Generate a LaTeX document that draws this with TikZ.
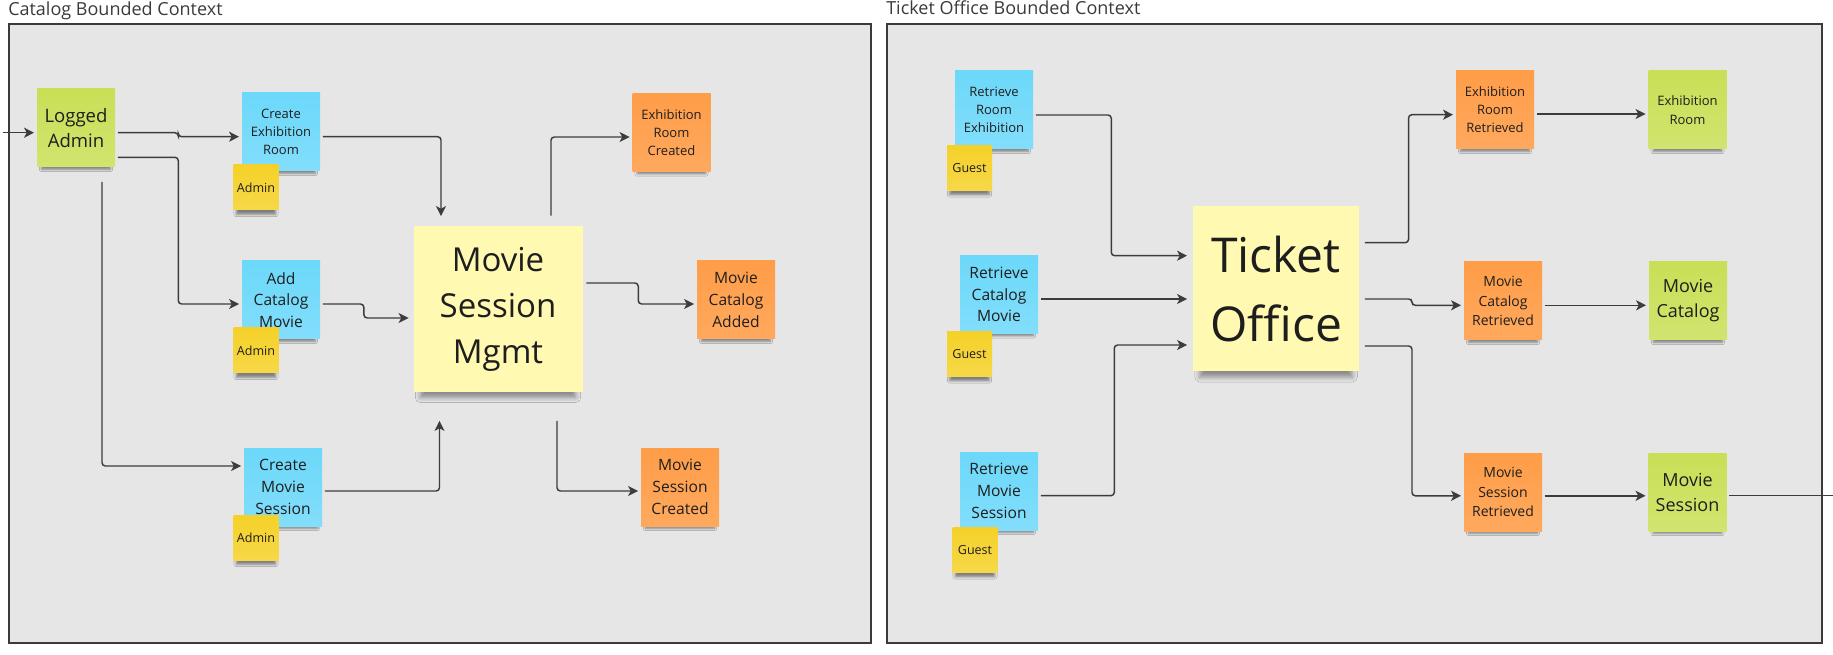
\documentclass[tikz,border=0pt]{standalone}
\usepackage{fontspec}
\setmainfont{Open Sans}
\usepackage{tikz}
\usetikzlibrary{arrows.meta}
\usetikzlibrary{calc}
\usetikzlibrary{shadows.blur}

\definecolor{framefill}{HTML}{E6E6E6}
\definecolor{framedraw}{HTML}{3A3A3A}
\definecolor{inkgray}{HTML}{1E1E1E}
\definecolor{linegray}{HTML}{3C3C3C}
\definecolor{notegreen}{HTML}{C9DF56}
\definecolor{noteblue}{HTML}{6CD8FA}
\definecolor{noteorange}{HTML}{FF9D48}
\definecolor{noteyellow}{HTML}{F5D128}
\definecolor{notecream}{HTML}{FFF9B1}

\newcommand{\notefont}[2]{\fontsize{#1pt}{#2pt}\selectfont}

\tikzset{
  note/.style={inner sep=0pt, align=center, text=inkgray,
    minimum width=58.5pt, minimum height=58.5pt},
  smallshadow/.style={blur shadow={shadow xshift=0pt, shadow yshift=-6pt,
    shadow blur radius=2pt, shadow opacity=45, shadow scale=0.88}},
  bigshadow/.style={blur shadow={shadow xshift=0pt, shadow yshift=-10pt,
    shadow blur radius=4pt, shadow opacity=40, shadow scale=0.92}},
  command/.style={note, smallshadow, top color=noteblue, bottom color=noteblue!85!white},
  event/.style={note, smallshadow, top color=noteorange, bottom color=noteorange!88!white},
  readmodel/.style={note, smallshadow, top color=notegreen, bottom color=notegreen!85!white},
  actor/.style={note, smallshadow, minimum width=33.75pt, minimum height=33.75pt,
    top color=noteyellow, bottom color=noteyellow!85!white, font=\notefont{9.4}{12}},
  aggregate/.style={note, bigshadow, fill=notecream},
  context/.style={draw=framedraw, fill=framefill, line width=1.1pt},
  title/.style={inner sep=0pt, anchor=base west, text=framedraw, font=\notefont{13.5}{16}},
  flow/.style={draw=linegray, line width=1.1pt, rounded corners=2.5pt,
    -{Stealth[length=7.5pt,width=7.5pt,inset=2pt]}, shorten <=2pt, shorten >=2pt},
  link/.style={draw=linegray, line width=0.9pt}
}

\begin{document}
\begin{tikzpicture}[x=0.75pt,y=0.75pt,yscale=-1,xscale=1]
\useasboundingbox (0,0) rectangle (1833,655);

% Bounded Contexts
\draw[context] (9,24) rectangle (871,643);
\draw[context] (887,24) rectangle (1822,643);

% Text Node
\node[title] (cattitle) at (8,16) {Catalog Bounded Context};
% Text Node
\node[title] (tkttitle) at (886,15) {Ticket Office Bounded Context};

% Catalog Sticky Notes
\node[readmodel, font=\notefont{13.9}{18.75}] (la) at (76,128) {Logged\\Admin};
\node[command, font=\notefont{9.75}{13.5}] (cer) at (281,132) {Create\\Exhibition\\Room};
\node[actor] (adm1) at (256,187.5) {Admin};
\node[command, font=\notefont{11.7}{16.3}] (acm) at (281,300) {Add\\Catalog\\Movie};
\node[actor] (adm2) at (256,350.5) {Admin};
\node[command, font=\notefont{11.7}{16.3}] (cms) at (283,487) {Create\\Movie\\Session};
\node[actor] (adm3) at (256,537.5) {Admin};
\node[aggregate, minimum width=126.75pt, minimum height=124.5pt, font=\notefont{24.75}{34.5}] (msm) at (498,309) {Movie\\Session\\Mgmt};
\node[event, font=\notefont{9.75}{13.5}] (erc) at (671.5,132.5) {Exhibition\\Room\\Created};
\node[event, font=\notefont{11.7}{16.3}] (mca) at (736,300) {Movie\\Catalog\\Added};
\node[event, font=\notefont{11.7}{16.3}] (msc) at (680,487) {Movie\\Session\\Created};

% Ticket Office Sticky Notes
\node[command, font=\notefont{9.75}{13.5}] (rre) at (994,110) {Retrieve\\Room\\Exhibition};
\node[actor] (gst1) at (969.5,168) {Guest};
\node[command, font=\notefont{11.7}{16.3}] (rcm) at (999,294.5) {Retrieve\\Catalog\\Movie};
\node[actor] (gst2) at (969.5,354) {Guest};
\node[command, font=\notefont{11.7}{16.3}] (rms) at (999,491) {Retrieve\\Movie\\Session};
\node[actor] (gst3) at (975,550) {Guest};
\node[aggregate, minimum width=124.5pt, minimum height=123.75pt, font=\notefont{36}{51.75}] (to) at (1276,289) {Ticket\\Office};
\node[event, font=\notefont{9.75}{13.5}] (err) at (1495,110) {Exhibition\\Room\\Retrieved};
\node[readmodel, font=\notefont{9.75}{14.25}] (er) at (1687.5,110) {Exhibition\\Room};
\node[event, font=\notefont{10.5}{14.6}] (mcr) at (1503,301) {Movie\\Catalog\\Retrieved};
\node[readmodel, font=\notefont{13.5}{18.75}] (mc) at (1688,301) {Movie\\Catalog};
\node[event, font=\notefont{10.5}{14.6}] (msr) at (1503,492) {Movie\\Session\\Retrieved};
\node[readmodel, font=\notefont{13.5}{18.75}] (ms) at (1687.5,492) {Movie\\Session};

% Catalog Connectors
\coordinate (entry) at (0,132.7);
\draw[flow] (entry) -- (entry -| la.west);
\draw[flow] (la.east |- entry) -- ++(63,0) -- ++(0,4) -- ($(cer.west)+(0,4.7)$);
\draw[flow] ($(cer.east)+(0,4.7)$) -| ($(msm.north)+(-57,-7)$);
\draw[flow] ($(la.east)+(0,29.3)$) -- ++(63,0) |- ($(acm.west)+(0,4)$);
\draw[flow] ($(acm.east)+(0,4)$) -- ++(43.6,0) -- ++(0,14) -- ($(msm.west)+(-2,9)$);
\draw[flow] ($(la.south)+(26,12)$) |- ($(cms.west)+(0,-21)$);
\draw[flow] ($(cms.east)+(0,4)$) -| ($(msm.south)+(-58.5,26)$);
\draw[flow] ($(msm.north)+(53,-7.5)$) |- ($(erc.west)+(0,4.5)$);
\draw[flow] ($(msm.east)+(1,-26)$) -- ++(54.5,0) |- ($(mca.west)+(0,4)$);
\draw[flow] ($(msm.south)+(59,26)$) |- ($(msc.west)+(0,4)$);

% Ticket Office Connectors
\draw[flow] ($(rre.east)+(0,5)$) -- ++(78,0) |- ($(to.west)+(-3,-33.3)$);
\draw[flow] ($(rcm.east)+(0,4.5)$) -- ($(to.west)+(-3,10)$);
\draw[flow] ($(rms.east)+(0,4.7)$) -- ++(76,0) |- ($(to.west)+(-3,56)$);
\draw[flow] ($(to.east)+(3,-46.3)$) -- ++(46.3,0) |- ($(err.west)+(0,4.7)$);
\draw[flow] ($(err.east)+(0,4)$) -- ($(er.west)+(0,4)$);
\draw[flow] ($(to.east)+(3,10)$) -- ++(49.7,0) |- ($(mcr.west)+(0,4.3)$);
\draw[flow] ($(mcr.east)+(0,4.3)$) -- ($(mc.west)+(0,4.3)$);
\draw[flow] ($(to.east)+(3,57)$) -- ++(49.7,0) |- ($(msr.west)+(0,3.8)$);
\draw[flow] ($(msr.east)+(0,3.8)$) -- ($(ms.west)+(0,3.8)$);
\coordinate (exit) at (1833,495.8);
\draw[link] ($(ms.east)+(2.5,3.8)$) -- (exit);

\end{tikzpicture}
\end{document}
